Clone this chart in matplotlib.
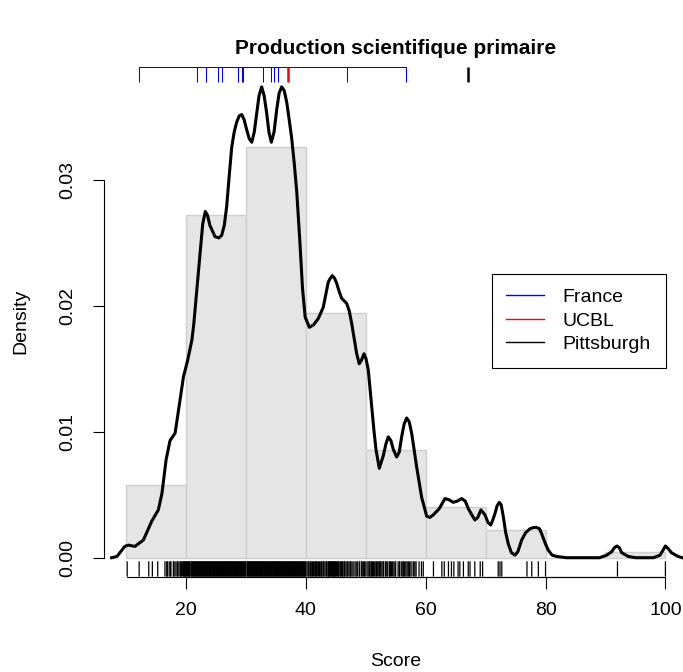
import numpy as np
import matplotlib
matplotlib.use('Agg')
import matplotlib.pyplot as plt
import matplotlib.transforms as mtransforms
from matplotlib.lines import Line2D

plt.rcParams['font.family'] = ['Liberation Sans', 'DejaVu Sans']

# histogram (density scale), breaks every 10
bin_left = [10, 20, 30, 40, 50, 60, 70, 80, 90]
bin_density = [0.0058, 0.0272, 0.0326, 0.0194, 0.00855, 0.0040, 0.0022, 0.0, 0.00043]

# kernel density curve
dens_x = [7.6, 8.5, 9.8, 10.4, 11.5, 12.9, 14.3, 15.4, 16.0, 16.7, 17.35, 18.2, 18.7,
          19.6, 20.3, 21.0, 21.3, 21.8, 22.35, 22.8, 23.24, 23.6, 24.0, 24.85, 25.5,
          25.97, 26.4, 26.8, 27.2, 27.64, 28.05, 28.47, 28.9, 29.31, 29.7, 30.14,
          30.55, 30.98, 31.4, 31.81, 32.2, 32.64, 33.05, 33.48, 33.85, 34.25, 34.7,
          35.15, 35.55, 35.98, 36.4, 36.81, 37.2, 37.65, 38.1, 38.5, 39.0, 39.45,
          39.9, 40.6, 41.3, 42.09, 42.92, 43.75, 44.1, 44.42, 44.8, 45.15, 45.6,
          45.99, 46.4, 46.82, 47.25, 47.66, 48.1, 48.49, 48.92, 49.3, 49.71, 50.05,
          50.43, 50.99, 51.35, 51.71, 52.26, 52.93, 53.35, 53.76, 54.2, 54.6, 55.16,
          55.6, 55.99, 56.4, 56.83, 57.25, 57.66, 58.1, 58.5, 59.33, 60.17, 60.7,
          61.27, 62.27, 63.22, 63.9, 64.6, 65.3, 66.0, 66.6, 67.11, 67.7, 68.22,
          68.7, 69.22, 69.89, 70.4, 70.84, 71.2, 71.56, 71.9, 72.28, 72.6, 72.94,
          73.35, 73.78, 74.3, 74.9, 75.4, 76.01, 76.7, 77.4, 78.0, 78.51, 79.0,
          79.35, 79.9, 80.45, 81.1, 81.85, 83.5, 86.0, 89.0, 90.2, 91.0, 91.5, 91.9,
          92.3, 92.7, 93.8, 95.0, 98.0, 99.1, 99.6, 100.0, 100.5, 101.0, 102.1, 102.8]
dens_y = [0.0, 0.0001, 0.0009, 0.0010, 0.0009, 0.0014, 0.0029, 0.0038, 0.0051, 0.0078,
          0.0093, 0.0099, 0.0115, 0.0144, 0.0157, 0.0173, 0.0185, 0.0212, 0.0242,
          0.0265, 0.0275, 0.0272, 0.0264, 0.0255, 0.0254, 0.0256, 0.0264, 0.0279,
          0.0302, 0.0326, 0.0338, 0.0346, 0.0351, 0.0352, 0.0348, 0.0340, 0.0333,
          0.0330, 0.0338, 0.0353, 0.0367, 0.0374, 0.0367, 0.0353, 0.0338, 0.0330,
          0.0338, 0.0356, 0.0369, 0.0374, 0.0371, 0.0362, 0.0349, 0.0333, 0.0312,
          0.0290, 0.0252, 0.0214, 0.0191, 0.0183, 0.0185, 0.0190, 0.0199, 0.0219,
          0.0222, 0.0224, 0.0222, 0.0218, 0.0211, 0.0206, 0.0204, 0.0202, 0.0196,
          0.0186, 0.0173, 0.0162, 0.0154, 0.0157, 0.0162, 0.0158, 0.0149, 0.0120,
          0.0102, 0.0086, 0.0071, 0.0081, 0.0090, 0.0096, 0.0093, 0.0086, 0.0080,
          0.0084, 0.0096, 0.0106, 0.0111, 0.0108, 0.0099, 0.0085, 0.0072, 0.0048,
          0.0033, 0.0032, 0.0034, 0.0039, 0.0047, 0.0046, 0.0044, 0.0045, 0.0047,
          0.0045, 0.0039, 0.0034, 0.0030, 0.0032, 0.0038, 0.0034, 0.0028, 0.0026,
          0.0030, 0.0035, 0.0041, 0.0044, 0.0042, 0.0033, 0.0020, 0.0011, 0.0004,
          0.0002, 0.0005, 0.0014, 0.0020, 0.0023, 0.0024, 0.0024, 0.0023, 0.0019,
          0.0012, 0.0006, 0.0002, 0.0001, 0.0, 0.0, 0.0, 0.0002, 0.00046, 0.0008,
          0.00093, 0.0008, 0.0004, 0.0001, 0.0, 0.0, 0.0002, 0.0006, 0.00093,
          0.0007, 0.0004, 0.0001, 0.0]

# individual scores (bottom rug)
scores = [10.2, 12.2, 13.8, 14.4, 15.3,
          16.5, 16.8, 16.9, 17.2, 17.4, 17.5, 17.9, 18.0, 18.2, 18.5, 18.6, 18.7,
          19.0, 19.1, 19.3, 19.4, 19.6, 19.7, 19.8, 19.9, 20.0,
          20.1, 20.2, 20.3, 20.4, 20.5, 20.6, 20.7, 20.9, 21.0, 21.1, 21.2, 21.3,
          21.4, 21.5, 21.6, 21.7, 21.8, 21.9, 22.0, 22.1, 22.2, 22.3, 22.4, 22.5,
          22.6, 22.7, 22.8, 22.9, 23.0, 23.1, 23.2, 23.3, 23.4, 23.5, 23.6, 23.7,
          23.8, 23.9, 24.0, 24.1, 24.2, 24.3, 24.4, 24.5, 24.6, 24.7, 24.8, 24.9,
          25.0, 25.1, 25.2, 25.3, 25.4, 25.5, 25.6, 25.7, 25.8, 25.9, 26.0, 26.1,
          26.2, 26.3, 26.4, 26.5, 26.6, 26.7, 26.8, 26.9, 27.0, 27.1, 27.2, 27.3,
          27.4, 27.5, 27.6, 27.7, 27.8, 27.9, 28.0, 28.1, 28.2, 28.3, 28.4, 28.5,
          28.6, 28.7, 28.8, 28.9, 29.0, 29.1, 29.2, 29.3, 29.4, 29.5, 29.6, 29.7,
          29.8, 29.9,
          30.0, 30.2, 30.3, 30.4, 30.5, 30.6, 30.7, 30.8, 30.9, 31.0, 31.1, 31.2,
          31.3, 31.4, 31.5, 31.6, 31.7, 31.8, 31.9, 32.0, 32.1, 32.2, 32.3, 32.4,
          32.5, 32.6, 32.7, 32.8, 32.9, 33.0, 33.1, 33.2, 33.3, 33.4, 33.5, 33.6,
          33.7, 33.8, 33.9, 34.0, 34.1, 34.2, 34.3, 34.4, 34.5, 34.6, 34.7, 34.8,
          34.9, 35.0, 35.1, 35.2, 35.3, 35.4, 35.5, 35.6, 35.7, 35.8, 35.9, 36.0,
          36.1, 36.2, 36.3, 36.4, 36.5, 36.6, 36.7, 36.8, 36.9, 37.0, 37.1, 37.2,
          37.3, 37.4, 37.5, 37.6, 37.7, 37.8, 37.9, 38.0, 38.1, 38.2, 38.3, 38.4,
          38.5, 38.6, 38.7, 38.8, 38.9, 39.0, 39.1, 39.2, 39.3, 39.4, 39.5, 39.6,
          39.7, 39.8, 39.9,
          40.0, 40.2, 40.4, 40.5, 40.7, 40.8, 41.0, 41.1, 41.3, 41.5, 41.6, 41.8,
          41.9, 42.1, 42.3, 42.4, 42.6, 42.7, 42.9, 43.0, 43.2, 43.4, 43.5, 43.7,
          43.8, 43.9, 44.0, 44.1, 44.3, 44.4, 44.5, 44.6, 44.7, 44.8, 44.9, 45.0,
          45.1, 45.3, 45.4, 45.5, 45.7, 45.8, 46.0, 46.1, 46.2, 46.4, 46.5, 46.7,
          46.9, 47.0, 47.2, 47.4, 47.5, 47.7, 47.9, 48.2, 48.4, 48.6, 48.9, 49.0,
          49.3, 49.4, 49.6, 49.8, 49.9,
          50.2, 50.4, 50.6, 50.7, 50.9, 51.0, 51.1, 51.3, 51.5, 51.7, 51.8, 52.0,
          52.2, 52.3, 52.5, 52.7, 52.9, 53.0, 53.3, 53.4, 53.6, 53.9, 54.0, 54.1,
          54.3, 54.5, 54.7, 54.9, 55.0, 55.4, 55.6, 55.7, 56.0, 56.2, 56.3, 56.5,
          56.7, 56.9, 57.1, 57.3, 57.4, 57.7, 58.0, 58.2, 58.4, 58.9, 59.3, 59.6,
          61.3, 62.7, 63.1, 63.8, 64.3, 64.7, 65.4, 65.7, 66.3, 67.1, 67.4, 68.2,
          69.1, 69.5, 72.1, 72.4, 72.7, 76.9, 77.7, 78.8, 80.0, 92.0, 100.0]

# top rug
france = [12.2, 21.9, 23.4, 25.3, 26.0, 28.7, 29.4, 29.6, 32.9, 34.2, 34.7, 35.3, 46.9, 56.7]
ucbl = [37.0]
pittsburgh = [67.0]

W, H = 683, 672
fig = plt.figure(figsize=(W / 100, H / 100), dpi=100)
ax = fig.add_axes([104.4 / W, (H - 576.6) / H, (687 - 104.4) / W, (576.6 - 66.7) / H])
ax.set_xlim(6.4, 103.6)
ax.set_ylim(-0.0015, 0.039)

ax.bar(bin_left, bin_density, width=10, align='edge',
       color='#E5E5E5', edgecolor='#CFCFCF', linewidth=1.0, zorder=1)
ax.plot(dens_x, dens_y, color='black', lw=2.2, solid_joinstyle='round', zorder=3)

trans = mtransforms.blended_transform_factory(ax.transData, ax.transAxes)
tick_len = 0.03

# bottom rug
rug = ax.vlines(scores, 0, tick_len, transform=trans, color='black', lw=0.9,
                clip_on=False, zorder=2)
rug.set_snap(False)
ax.plot([min(scores), max(scores)], [0, 0], transform=trans, color='black',
        lw=0.8, clip_on=False)

# top rug
ax.vlines(france, 1 - tick_len, 1, transform=trans, color='blue', lw=0.75, clip_on=False)
ax.plot([min(france), max(france)], [1, 1], transform=trans, color='blue',
        lw=0.75, clip_on=False)
ax.vlines(ucbl, 1 - tick_len, 1, transform=trans, color='red', lw=1.8, clip_on=False)
ax.vlines(pittsburgh, 1 - tick_len, 1, transform=trans, color='black', lw=1.8, clip_on=False)

for side in ['top', 'right']:
    ax.spines[side].set_visible(False)
ax.spines['bottom'].set_bounds(20, 100)
ax.spines['left'].set_bounds(0, 0.03)
ax.spines['bottom'].set_linewidth(0.8)
ax.spines['left'].set_linewidth(0.8)

ax.set_xticks([20, 40, 60, 80, 100])
ax.set_yticks([0, 0.01, 0.02, 0.03])
ax.set_yticklabels(['0.00', '0.01', '0.02', '0.03'], rotation=90, va='center')
ax.tick_params(axis='x', length=8.5, width=0.8, pad=10, labelsize=14)
ax.tick_params(axis='y', length=8, width=0.8, pad=12, labelsize=14)

cx = (104.4 + 687) / 2 / W
fig.text(cx, 1 - 48 / H, 'Production scientifique primaire', ha='center',
         va='center', fontsize=15, fontweight='bold')
fig.text(cx, 1 - 662 / H, 'Score', ha='center', va='center', fontsize=14)
fig.text(20.5 / W, 1 - 321.6 / H, 'Density', ha='center', va='center',
         rotation=90, fontsize=14)

handles = [Line2D([], [], color='blue', lw=1),
           Line2D([], [], color='red', lw=1),
           Line2D([], [], color='black', lw=1)]
leg = fig.legend(handles, ['France', 'UCBL', 'Pittsburgh'], loc='upper left',
                 bbox_to_anchor=(491.7 / W, 1 - 274 / H), fontsize=14,
                 frameon=True, fancybox=False, framealpha=1, edgecolor='black',
                 handlelength=1.95, handletextpad=0.95, borderpad=0.75,
                 labelspacing=0.3, borderaxespad=0)
leg.get_frame().set_linewidth(0.8)

fig.savefig('out.png', dpi=100)
